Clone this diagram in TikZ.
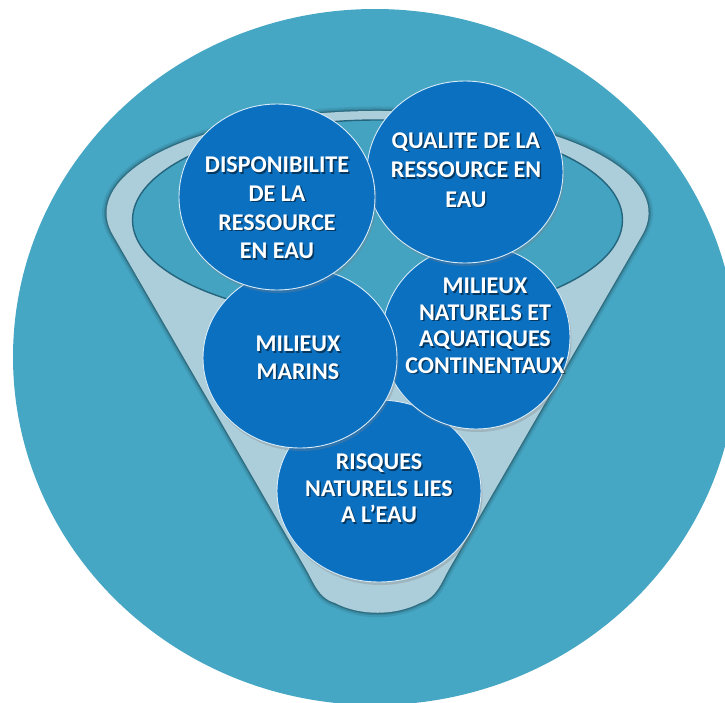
\documentclass[tikz,border=0pt]{standalone}
\usepackage{fontspec}
\setmainfont{Carlito}
\usetikzlibrary{shapes.geometric,shadows}
\definecolor{bgteal}{RGB}{70,167,196}
\definecolor{rim}{RGB}{172,205,218}
\definecolor{hole}{RGB}{67,163,193}
\definecolor{holeedge}{RGB}{36,100,124}
\definecolor{bubblefill}{RGB}{12,112,192}
\definecolor{bubbleline}{RGB}{215,235,248}
\begin{document}
\begin{tikzpicture}[x=1pt,y=-1pt,
  bubble/.style={ellipse, fill=bubblefill, draw=bubbleline, line width=0.9pt,
    inner sep=0pt, drop shadow={shadow xshift=1.5pt, shadow yshift=-3pt, opacity=0.3}},
  lbl/.style={text=white, align=center, inner sep=0pt,
    font=\bfseries\fontsize{24}{#1}\selectfont},
  lbl/.default=28.8,
  lblsh/.style={lbl=#1, text=black, opacity=0.5},
  lblsh/.default=28.8]
\clip (0,0) rectangle (725,702);
\useasboundingbox (0,0) rectangle (725,702);
% background disc
\fill[bgteal] (375,357) ellipse [x radius=362, y radius=348];
% funnel
\path[save path=\funnelpath] (642.3,234.7)
  arc[start angle=12.3, end angle=-192.3, x radius=271, y radius=102]
  -- (306.5,570) .. controls (313,581) and (318,598) .. (335,603)
  .. controls (360,616) and (395,616) .. (420,603)
  .. controls (437,598) and (442,581) .. (448.5,570) -- cycle;
\draw[black, opacity=0.08, line width=9pt, use path=\funnelpath];
\draw[black, opacity=0.12, line width=5pt, use path=\funnelpath];
\draw[black, opacity=0.18, line width=2.5pt, use path=\funnelpath];
\fill[rim, use path=\funnelpath];
% funnel opening
\filldraw[fill=hole, draw=holeedge, line width=1.4pt] (377.5,220) ellipse [x radius=245, y radius=100];
% bubbles
\node[bubble, minimum width=204pt, minimum height=182pt] (risq) at (379,491) {};
\node[bubble, minimum width=188pt, minimum height=184pt] (nat) at (476,337) {};
\node[bubble, minimum width=194pt, minimum height=180pt] (mar) at (300,358) {};
\node[bubble, minimum width=196pt, minimum height=182pt] (qual) at (465,172) {};
\node[bubble, minimum width=196pt, minimum height=186pt] (dispo) at (277,197) {};
% labels (shadow + text)
\node[lblsh] (dispos) at (278.5,209.5) {DISPONIBILITE\\DE LA\\RESSOURCE\\EN EAU};
\node[lbl] (dispot) at (277,208) {DISPONIBILITE\\DE LA\\RESSOURCE\\EN EAU};
\node[lblsh=29.5] (quals) at (467.5,171.5) {QUALITE DE LA\\RESSOURCE EN\\EAU};
\node[lbl=29.5] (qualt) at (466,170) {QUALITE DE LA\\RESSOURCE EN\\EAU};
\node[lblsh=26.5] (nats) at (486.5,327.5) {MILIEUX\\NATURELS ET\\AQUATIQUES\\CONTINENTAUX};
\node[lbl=26.5] (natt) at (485,326) {MILIEUX\\NATURELS ET\\AQUATIQUES\\CONTINENTAUX};
\node[lblsh=27.5] (mars) at (299.5,359.5) {MILIEUX\\MARINS};
\node[lbl=27.5] (mart) at (298,358) {MILIEUX\\MARINS};
\node[lblsh=26.5] (risqs) at (380.5,490) {RISQUES\\NATURELS LIES\\A L’EAU};
\node[lbl=26.5] (risqt) at (379,488.5) {RISQUES\\NATURELS LIES\\A L’EAU};
\end{tikzpicture}
\end{document}
